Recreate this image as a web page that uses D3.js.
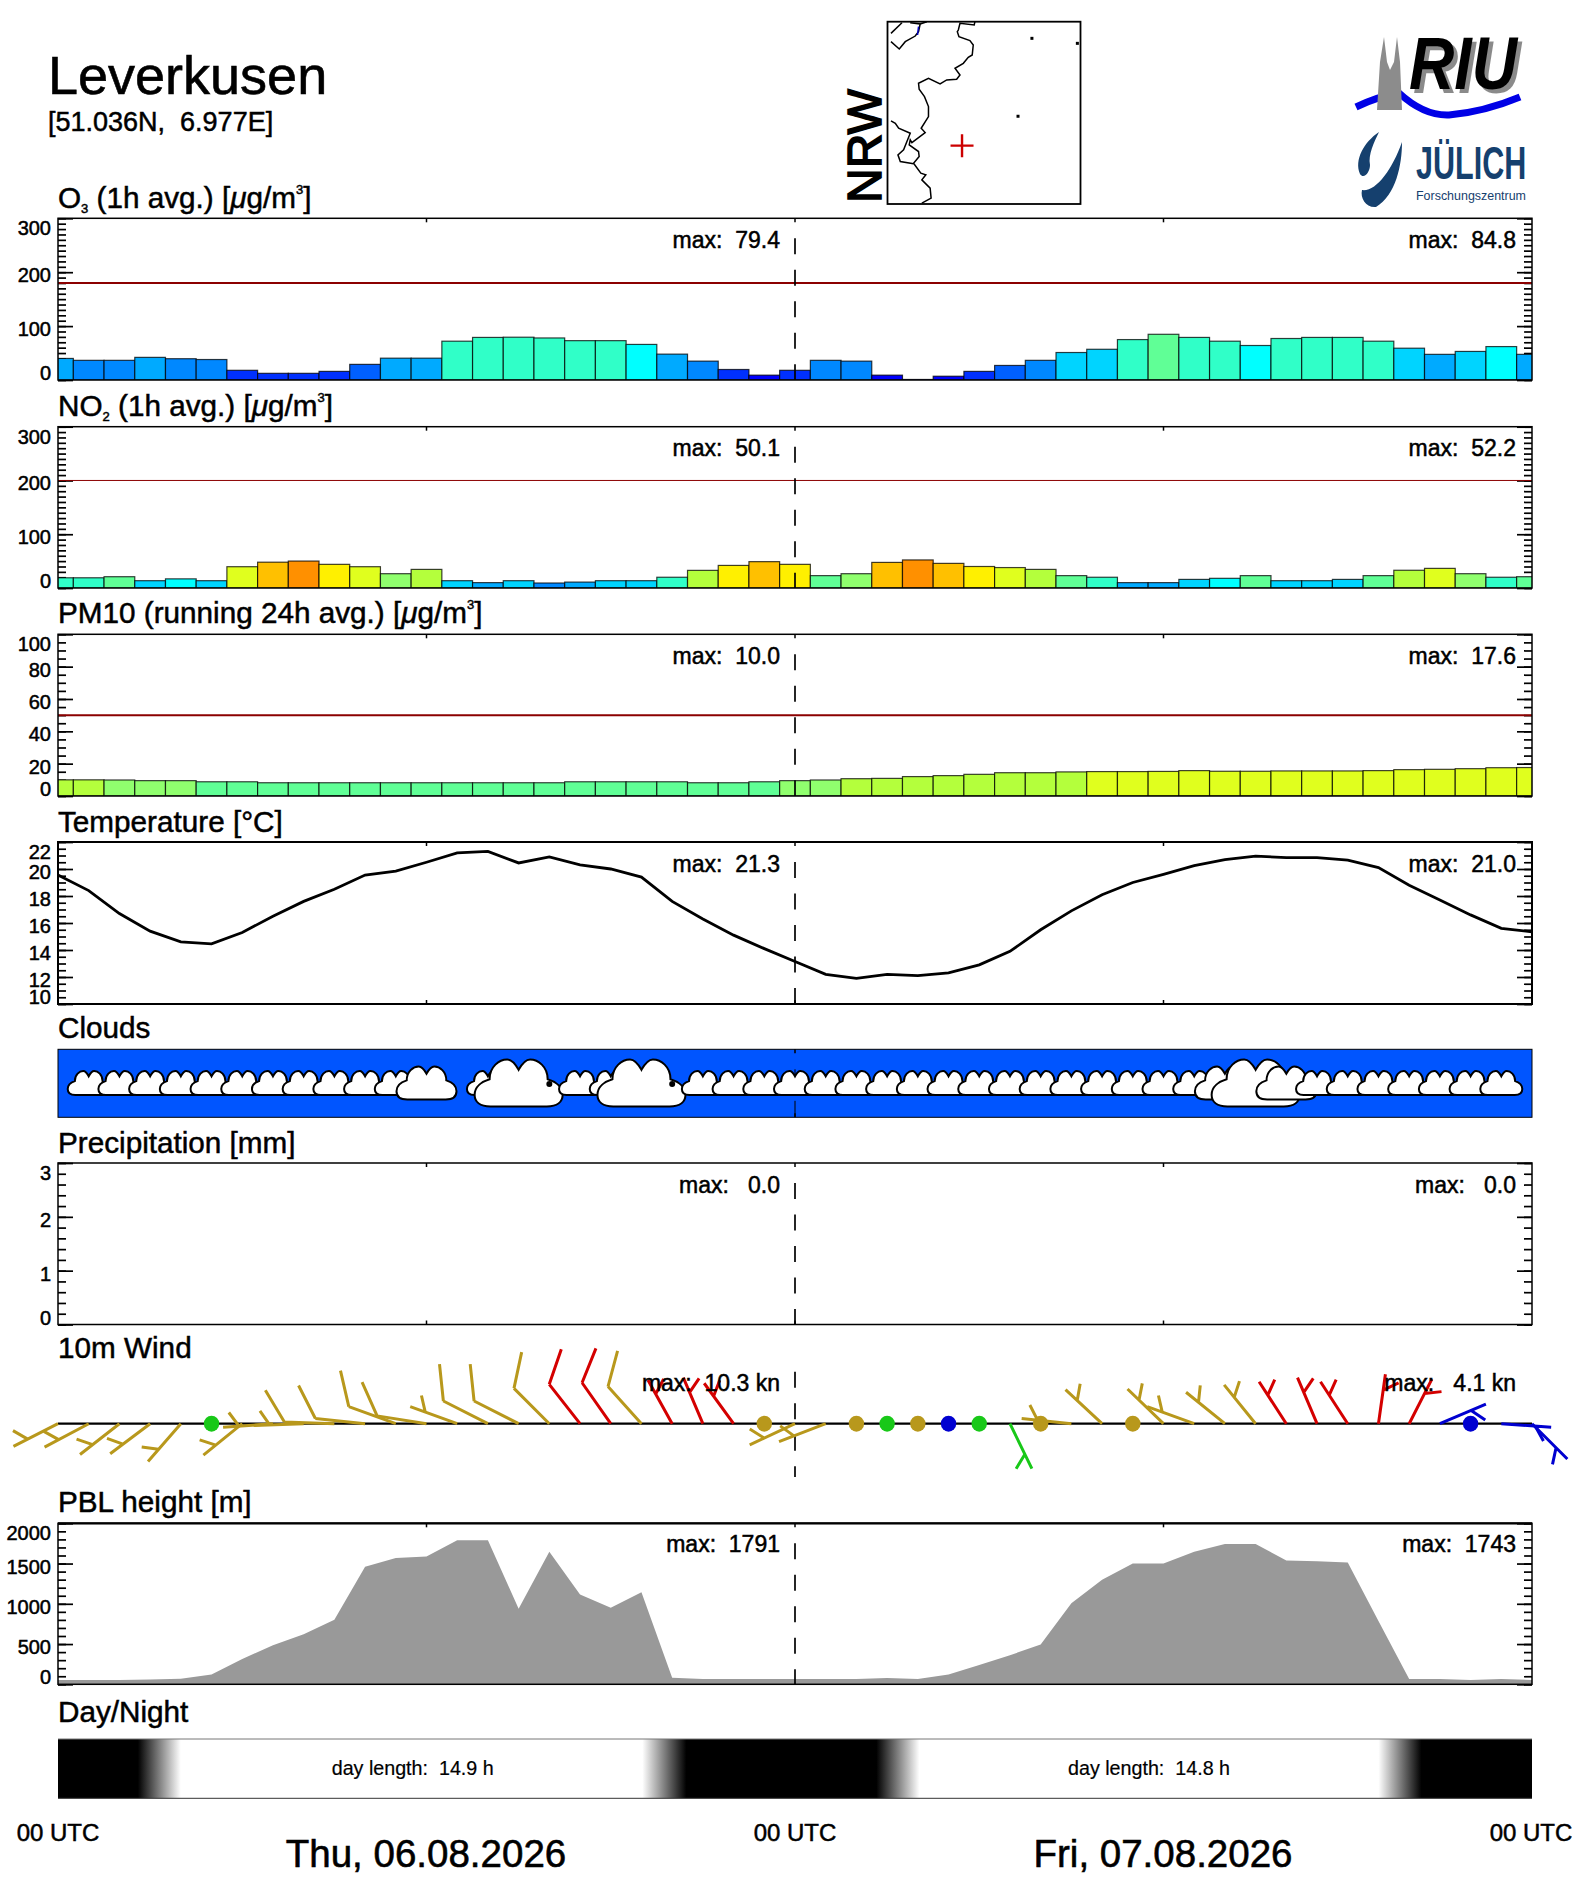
<!DOCTYPE html>
<html>
<head>
<meta charset="utf-8">
<title>Leverkusen</title>
<script src="https://cdn.jsdelivr.net/npm/d3@7"></script>
<style>
html, body { margin: 0; padding: 0; background: #fff; }
svg { display: block; }
text { font-family: "Liberation Sans", sans-serif; fill: #000; white-space: pre; }
</style>
</head>
<body>
<script>
// hourly values, hour 0 to hour 48
var o3Values = [40, 36.5, 36.5, 42, 39.5, 38, 18, 12.4, 12.4, 16, 29, 40.5, 40.5, 72, 79, 79.4, 78, 73, 73, 66, 48, 35, 19.5, 9, 18,
    36.5, 35, 9, 1, 7, 16, 27, 36.5, 51, 57, 75, 84.8, 79, 72, 64, 77, 79, 79, 72, 59, 47.6, 53, 62, 47.6];
var no2Values = [19, 19, 21, 13.6, 17, 13.6, 39.6, 48, 50.1, 44, 39.6, 26.6, 34.6, 13.6, 10, 13.6, 9.3, 11, 13.6, 13.6, 20, 32.8, 42, 49, 44,
    23, 26.6, 47.6, 52.2, 45.8, 40, 38, 34.6, 23, 20, 10, 10, 16, 18, 23, 13.6, 13.6, 16, 23, 33, 36.5, 26.6, 20, 21];
var pm10Values = [10, 10, 9.9, 9.5, 9.5, 8.8, 8.8, 8.2, 8.2, 8.2, 8.2, 8.2, 8.2, 8.2, 8.2, 8.2, 8.2, 8.8, 8.8, 8.8, 8.8, 8.2, 8.2, 8.8, 9.5,
    9.9, 10.7, 10.9, 12, 12.6, 13.4, 14.4, 14.4, 14.9, 15.1, 15.1, 15.2, 15.7, 15.3, 15.3, 15.5, 15.5, 15.5, 15.7, 16.3, 16.5, 16.9, 17.5, 17.6];
var tempValues = [19.55, 18.4, 16.7, 15.4, 14.6, 14.45, 15.3, 16.5, 17.6, 18.5, 19.55, 19.85, 20.5, 21.2, 21.3, 20.45, 20.9, 20.3, 20, 19.4, 17.6, 16.3, 15.1, 14.1, 13.15,
    12.2, 11.9, 12.2, 12.1, 12.3, 12.9, 13.9, 15.5, 16.9, 18.1, 19, 19.6, 20.25, 20.7, 20.95, 20.85, 20.85, 20.65, 20.1, 18.8, 17.7, 16.6, 15.6, 15.35];
var precipValues = [0, 0, 0, 0, 0, 0, 0, 0, 0, 0, 0, 0, 0, 0, 0, 0, 0, 0, 0, 0, 0, 0, 0, 0, 0,
    0, 0, 0, 0, 0, 0, 0, 0, 0, 0, 0, 0, 0, 0, 0, 0, 0, 0, 0, 0, 0, 0, 0, 0];
var pblValues = [53, 53, 53, 60, 70, 123, 313, 486, 621, 802, 1461, 1568, 1588, 1791, 1791, 938, 1646, 1115, 951, 1144, 82, 66, 66, 66, 66,
    66, 66, 78, 66, 123, 239, 362, 494, 1008, 1300, 1502, 1502, 1646, 1743, 1743, 1539, 1530, 1514, 786, 66, 66, 53, 66, 53];

// wind: staff bearing in degrees (null = calm), speed in knots, colour class
var windBearing = [243, 242, 232, 233, 221, null, 231, 266, 268, 272, 276, 290, 279, 290, 297, 297, 315, 322, 325, 318, 331, 337, 324, null, 245,
    249, null, null, null, null, null, 154, null, 276, 313, null, 314, 290, 309, 321, 327, 337, 327, 8, 27, 67, null, 94, 135];
var windSpeed = [4.5, 4.6, 3.9, 3.8, 3.5, 1.5, 4.1, 4.8, 5.2, 7.5, 8, 8.6, 7.8, 6.5, 8.2, 8.4, 9.1, 10.3, 10.1, 9.2, 6.6, 6.2, 5.8, 1.8, 3.2,
    3, 1.5, 1.2, 1.6, 1.1, 1.4, 2.6, 1.7, 2.8, 3.2, 1.9, 3.3, 3.5, 3.6, 3.8, 4.1, 3.9, 3.7, 3.4, 3, 2.8, 1.8, 2.5, 2.6];
var windClass = ["o", "o", "o", "o", "o", "g", "o", "o", "o", "o", "o", "o", "o", "o", "o", "o", "o", "r", "r", "o", "r", "r", "r", "o", "o",
    "o", "o", "g", "o", "b", "g", "g", "o", "o", "o", "o", "o", "o", "o", "o", "r", "r", "r", "r", "r", "b", "b", "b", "b"];

// clouds, hour 1 to hour 47: 0 none, 1 small, 2 medium, 3 large, 4 dot
var cloudClass = [1, 1, 1, 1, 1, 1, 1, 1, 1, 1, 1, 2, 0, 1, 3, 4, 1, 1, 3, 4, 1, 1, 1, 1,
    1, 1, 1, 1, 1, 1, 1, 1, 1, 1, 1, 1, 1, 2, 3, 2, 1, 1, 1, 1, 1, 1, 1];

// black-to-white and white-to-black hours of each day
var dawnDusk = [2.6, 4, 19.03, 20.46, 26.65, 28.05, 43, 44.4];
var dayLabels = ["day length:  14.9 h", "day length:  14.8 h"];
var dateLabels = ["Thu, 06.08.2026", "Fri, 07.08.2026"];
var utcHours = [0, 24, 48];

var colorRamp = ["#0000ff", "#0030ff", "#0060ff", "#0088ff", "#00aaff", "#00d4ff", "#00ffff", "#30ffc8", "#60ff96", "#90ff6e", "#b4ff3c", "#e0ff1e", "#fff000", "#ffc000", "#ff9000"];
var o3Bins = [10, 20, 30, 40, 50, 60, 70, 80, 90, 100, 110, 120, 130, 140];
var no2Bins = [3, 6, 9, 10, 12, 16.5, 19, 21, 25, 30, 36, 40, 45, 50];
var pm10Bins = [1, 2, 3, 4, 5, 6, 7, 8, 9.2, 10, 15, 20, 25, 30];

// border lines of the small map, lon / lat
var borderEast = [[7.241, 52.6], [7.227, 52.558], [6.935, 52.579], [6.901, 52.495], [6.88, 52.474], [6.914, 52.411], [7.139, 52.361], [7.207, 52.306], [7.186, 52.18], [7.105, 52.151], [7.003, 52.075], [6.833, 52.012], [6.935, 51.928], [6.867, 51.873], [6.663, 51.865], [6.527, 51.815], [6.289, 51.886], [6.085, 51.823], [6.098, 51.747], [6.207, 51.655], [6.289, 51.529], [6.289, 51.403], [6.139, 51.256], [6.221, 51.201], [5.949, 51.075], [5.915, 51.109], [5.894, 51.046], [6.085, 50.962], [6.098, 50.899], [5.983, 50.815], [6.132, 50.689], [6.234, 50.668], [6.153, 50.605], [6.323, 50.5], [6.343, 50.374], [6.153, 50.311]];
var borderWest = [[5.52, 51.348], [5.609, 51.319], [5.677, 51.256], [5.915, 51.193], [5.779, 50.983], [5.663, 50.92], [5.711, 50.836], [5.983, 50.807]];
var borderNorth1 = [[5.52, 52.453], [5.745, 52.587]];
var borderNorth2 = [[5.52, 52.348], [5.69, 52.256], [5.813, 52.348], [6.017, 52.419], [6.085, 52.474], [6.119, 52.571], [5.915, 52.587]];
var borderNorth3 = [[6.119, 52.571], [6.255, 52.6]];
var riverLine = [[6.085, 52.537], [6.064, 52.432]];
var mapSpecks = [[8.41, 52.39], [9.342, 52.327], [8.125, 51.407]];
var station = [6.977, 51.036];

var svg = d3.select("body").append("svg")
    .attr("width", 1572)
    .attr("height", 1889);

var hours = d3.range(49);
var x = d3.scaleLinear().domain([0, 48]).range([58, 1532]);
var barW = x(1) - x(0);

function label(str, px, py, size, anchor) {
    return svg.append("text")
        .attr("x", px)
        .attr("y", py)
        .attr("font-size", size)
        .attr("text-anchor", anchor || "start")
        .attr("stroke", "#000")
        .attr("stroke-width", 0.5)
        .text(str);
}

// title with sub/superscripts, parts = [string, "sub"|"sup"|"mu"|null, dy]
function titleText(parts, py) {
    var t = svg.append("text").attr("x", 58).attr("y", py).attr("font-size", 29.7)
        .attr("stroke", "#000").attr("stroke-width", 0.5);
    parts.forEach(function (p) {
        var s = t.append("tspan").text(p[0]);
        if (p[1] == "sub") s.attr("font-size", 13).attr("dy", 5);
        if (p[1] == "sup") s.attr("font-size", 13).attr("dy", -14);
        if (p[1] == "mu") s.attr("font-style", "italic");
        if (p[2]) s.attr("dy", p[2]);
    });
}

function panelFrame(top, bottom, sw) {
    svg.append("rect")
        .attr("x", x(0)).attr("y", top)
        .attr("width", x(48) - x(0)).attr("height", bottom - top)
        .attr("fill", "none").attr("stroke", "#000").attr("stroke-width", sw);
}

function yTicks(y, majors, minors) {
    var styleAxis = function (a) {
        a.select(".domain").remove();
        a.selectAll("line").attr("stroke", "#000").attr("stroke-width", 1.7);
        a.selectAll("text").remove();
    };
    svg.append("g").attr("transform", "translate(" + x(0) + ",0)").call(d3.axisRight(y).tickValues(minors).tickSize(8)).call(styleAxis);
    svg.append("g").attr("transform", "translate(" + x(0) + ",0)").call(d3.axisRight(y).tickValues(majors).tickSize(15)).call(styleAxis);
    svg.append("g").attr("transform", "translate(" + x(48) + ",0)").call(d3.axisLeft(y).tickValues(minors).tickSize(8)).call(styleAxis);
    svg.append("g").attr("transform", "translate(" + x(48) + ",0)").call(d3.axisLeft(y).tickValues(majors).tickSize(15)).call(styleAxis);
    // first and last labels are pushed inside the frame
    majors.forEach(function (m, i) {
        var dy = i == 0 ? 0 : (i == majors.length - 1 ? 17 : 10);
        label(String(m), 51, y(m) + dy, 20, "end");
    });
}

function xTicks(top, bottom, marks) {
    (marks || [12, 24, 36]).forEach(function (h) {
        svg.append("line").attr("x1", x(h)).attr("x2", x(h)).attr("y1", top).attr("y2", top + 4).attr("stroke", "#000").attr("stroke-width", 1.5);
        svg.append("line").attr("x1", x(h)).attr("x2", x(h)).attr("y1", bottom).attr("y2", bottom - 4).attr("stroke", "#000").attr("stroke-width", 1.5);
    });
}

function midDash(top, bottom, sw) {
    svg.append("line")
        .attr("x1", x(24)).attr("x2", x(24))
        .attr("y1", top + 20).attr("y2", bottom)
        .attr("stroke", "#000").attr("stroke-width", sw || 1.7)
        .attr("stroke-dasharray", "16,15.5");
}

function maxLabels(a, b, top) {
    label(a, 780, top + 29.5, 23, "end");
    label(b, 1516, top + 29.5, 23, "end");
}

function clipFor(name, top, bottom) {
    svg.append("clipPath").attr("id", name).append("rect")
        .attr("x", x(0)).attr("y", top).attr("width", x(48) - x(0)).attr("height", bottom - top);
}

function barPanel(name, values, bins, top, bottom, maxY, majors, minors, limit) {
    var y = d3.scaleLinear().domain([0, maxY]).range([bottom, top]);
    var color = d3.scaleThreshold().domain(bins).range(colorRamp);
    clipFor(name, top, bottom);
    // bars hide the ticks behind them
    yTicks(y, majors, minors);
    xTicks(top, bottom);
    svg.append("g").attr("clip-path", "url(#" + name + ")")
        .selectAll("rect").data(values).enter().append("rect")
        .attr("x", function (d, i) { return x(i) - barW / 2; })
        .attr("y", function (d) { return y(d); })
        .attr("width", barW)
        .attr("height", function (d) { return bottom - y(d); })
        .attr("fill", function (d) { return color(d); })
        .attr("stroke", "#000")
        .attr("stroke-opacity", 0.75)
        .attr("stroke-width", 1.2);
    if (limit) {
        svg.append("line").attr("x1", x(0)).attr("x2", x(48)).attr("y1", y(limit[0])).attr("y2", y(limit[0]))
            .attr("stroke", "#8b0000").attr("stroke-width", limit[1]);
    }
    panelFrame(top, bottom, 1.5);
    midDash(top, bottom);
}

// ---------- header ----------
label("Leverkusen", 48, 94, 54).attr("stroke-width", 0.6);
label("[51.036N,  6.977E]", 48, 131, 27);

var mapX = d3.scaleLinear().domain([5.5, 9.437]).range([890, 1082]);
var mapY = d3.scaleLinear().domain([50.3, 52.6]).range([204, 21.7]);
var mapLine = d3.line().x(function (d) { return mapX(d[0]); }).y(function (d) { return mapY(d[1]); });
[borderEast, borderWest, borderNorth1, borderNorth2, borderNorth3].forEach(function (b) {
    svg.append("path").attr("d", mapLine(b)).attr("fill", "none").attr("stroke", "#000").attr("stroke-width", 1.5);
});
svg.append("path").attr("d", mapLine(riverLine)).attr("fill", "none").attr("stroke", "#0000c0").attr("stroke-width", 1.5);
svg.selectAll("rect.speck").data(mapSpecks).enter().append("rect")
    .attr("class", "speck")
    .attr("x", function (d) { return mapX(d[0]) - 1.5; })
    .attr("y", function (d) { return mapY(d[1]) - 1.5; })
    .attr("width", 3).attr("height", 3).attr("fill", "#000");
svg.append("rect").attr("x", 887.5).attr("y", 21.7).attr("width", 193).attr("height", 182.3)
    .attr("fill", "none").attr("stroke", "#000").attr("stroke-width", 1.8);
svg.append("path")
    .attr("d", "M" + (mapX(station[0]) - 11.5) + "," + mapY(station[1]) + "h23M" + mapX(station[0]) + "," + (mapY(station[1]) - 11.5) + "v23")
    .attr("stroke", "#cc0000").attr("stroke-width", 2.4).attr("fill", "none");
svg.append("text").attr("transform", "translate(881,203) rotate(-90)")
    .attr("font-size", 48).attr("stroke", "#000").attr("stroke-width", 1.6).text("NRW");

// RIU logo
svg.append("text").attr("x", 1409).attr("y", 89).attr("font-size", 74).attr("font-weight", "bold").attr("font-style", "italic")
    .attr("textLength", 108).attr("lengthAdjust", "spacingAndGlyphs")
    .style("filter", "drop-shadow(4px 4px 0 #8a8a8a)").text("RIU");
svg.append("path").attr("d", "M1356,107 Q1379,96 1399,93 Q1424,116 1449,115 Q1484,112 1520,97")
    .attr("fill", "none").attr("stroke", "#0000e6").attr("stroke-width", 7);
svg.append("path").attr("d", "M1377,110 L1380,62 L1384,37 L1387,62 L1390,70 L1394,62 L1397,37 L1400,62 L1402,110 Z").attr("fill", "#8c8c8c");

// Juelich logo
svg.append("path").attr("d", "M1379,132 C1364,142 1354,160 1360,174 C1364,180 1370,172 1370,165 C1368,155 1374,142 1379,132 Z").attr("fill", "#15406e");
svg.append("path").attr("d", "M1402,142 C1402,165 1396,195 1376,207 C1366,208 1360,198 1362,190 C1376,192 1392,170 1402,142 Z").attr("fill", "#15406e");
svg.append("text").attr("transform", "translate(1416,179) scale(0.65,1)").attr("font-size", 47).attr("font-weight", "bold")
    .style("fill", "#15406e").text("JÜLICH");
svg.append("text").attr("x", 1416).attr("y", 200).attr("font-size", 13)
    .attr("textLength", 110).attr("lengthAdjust", "spacingAndGlyphs").style("fill", "#15406e").text("Forschungszentrum");

// ---------- O3 ----------
titleText([["O"], ["3", "sub"], [" (1h avg.) [", null, -5], ["μ", "mu"], ["g/m"], ["3", "sup"], ["]", null, 14]], 208);
barPanel("clipO3", o3Values, o3Bins, 218.3, 380, 300, [0, 100, 200, 300], d3.range(0, 301, 10), [180, 2]);
maxLabels("max:  79.4", "max:  84.8", 218.3);

// ---------- NO2 ----------
titleText([["NO"], ["2", "sub"], [" (1h avg.) [", null, -5], ["μ", "mu"], ["g/m"], ["3", "sup"], ["]", null, 14]], 416);
barPanel("clipNo2", no2Values, no2Bins, 426.7, 588, 300, [0, 100, 200, 300], d3.range(0, 301, 10), [200, 1]);
maxLabels("max:  50.1", "max:  52.2", 426.7);

// ---------- PM10 ----------
titleText([["PM10 (running 24h avg.) ["], ["μ", "mu"], ["g/m"], ["3", "sup"], ["]", null, 14]], 623);
barPanel("clipPm", pm10Values, pm10Bins, 634.3, 796, 100, [0, 20, 40, 60, 80, 100], d3.range(0, 101, 5), [50, 2]);
maxLabels("max:  10.0", "max:  17.6", 634.3);

// ---------- temperature ----------
titleText([["Temperature [°C]"]], 832);
var yTemp = d3.scaleLinear().domain([10, 22]).range([1004, 842]);
var tempLine = d3.line()
    .x(function (d, i) { return x(i); })
    .y(function (d) { return yTemp(d); });
yTicks(yTemp, [10, 12, 14, 16, 18, 20, 22], d3.range(10, 22.01, 0.5));
xTicks(842, 1004);
svg.append("path").attr("d", tempLine(tempValues)).attr("fill", "none").attr("stroke", "#000").attr("stroke-width", 2.8);
panelFrame(842, 1004, 2);
midDash(842, 1004);
maxLabels("max:  21.3", "max:  21.0", 842);

// ---------- clouds ----------
titleText([["Clouds"]], 1038);
svg.append("rect").attr("x", x(0)).attr("y", 1049.3).attr("width", x(48) - x(0)).attr("height", 68)
    .attr("fill", "#0055ff").attr("stroke", "#000").attr("stroke-width", 1);
xTicks(1049.3, 1117.3, [24]);
midDash(1049.3, 1117.3, 1);
var cloudW = [0, 42, 60, 88];
var cloudH = [0, 24, 33, 47];
var cloudShape = "M0.18,1 C0.06,1 0,0.9 0,0.75 C0,0.58 0.08,0.47 0.17,0.42 C0.17,0.15 0.28,0 0.37,0 C0.43,0 0.47,0.12 0.5,0.22 C0.53,0.12 0.57,0 0.63,0 C0.72,0 0.83,0.15 0.83,0.42 C0.92,0.47 1,0.58 1,0.75 C1,0.9 0.94,1 0.82,1 Z";
var clouds = svg.append("g");
cloudClass.forEach(function (c, i) {
    var cx = x(i + 1);
    if (c == 4) {
        clouds.append("circle").attr("cx", cx).attr("cy", 1084).attr("r", 3).attr("fill", "#000");
    } else if (c > 0) {
        var w = cloudW[c], h = cloudH[c];
        clouds.append("path")
            .attr("d", cloudShape)
            .attr("transform", "translate(" + (cx - w / 2) + "," + (1083 - h / 2) + ") scale(" + w + "," + h + ")")
            .attr("fill", "#fff").attr("stroke", "#000").attr("stroke-width", 2)
            .attr("vector-effect", "non-scaling-stroke");
    }
});

// ---------- precipitation ----------
titleText([["Precipitation [mm]"]], 1153);
var yPrecip = d3.scaleLinear().domain([0, 3]).range([1324.5, 1163]);
yTicks(yPrecip, [0, 1, 2, 3], d3.range(0, 3.01, 0.2));
xTicks(1163, 1324.5);
svg.append("g").selectAll("rect").data(precipValues).enter().append("rect")
    .attr("x", function (d, i) { return x(i) - barW / 2; })
    .attr("y", function (d) { return yPrecip(d); })
    .attr("width", barW)
    .attr("height", function (d) { return 1324.5 - yPrecip(d); })
    .attr("fill", "#0000ff");
panelFrame(1163, 1324.5, 1.5);
midDash(1163, 1324.5);
maxLabels("max:   0.0", "max:   0.0", 1163);

// ---------- wind ----------
titleText([["10m Wind"]], 1358);
var windBase = 1423.7;
var windColor = d3.scaleOrdinal().domain(["o", "r", "g", "b"]).range(["#b8981c", "#d40000", "#18c818", "#0000d0"]);
var staffLen = 50;
function polar(px, py, bearing, len) {
    var r = bearing * Math.PI / 180;
    return [px + len * Math.sin(r), py - len * Math.cos(r)];
}
midDash(1351.7, 1477);
svg.append("line").attr("x1", x(0)).attr("x2", x(48)).attr("y1", windBase).attr("y2", windBase).attr("stroke", "#000").attr("stroke-width", 2.2);
hours.forEach(function (h) {
    var col = windColor(windClass[h]);
    if (windBearing[h] === null) {
        svg.append("ellipse").attr("cx", x(h)).attr("cy", windBase).attr("rx", 7.7).attr("ry", 8).attr("fill", col);
        return;
    }
    var b = windBearing[h];
    var end = polar(x(h), windBase, b, staffLen);
    var p = d3.path();
    p.moveTo(x(h), windBase);
    p.lineTo(end[0], end[1]);
    if (windSpeed[h] >= 7) {
        var f = polar(end[0], end[1], b + 57, 37);
        p.moveTo(end[0], end[1]);
        p.lineTo(f[0], f[1]);
    } else {
        var s = polar(x(h), windBase, b, staffLen * 0.68);
        var f2 = polar(s[0], s[1], b + 57, 17);
        p.moveTo(s[0], s[1]);
        p.lineTo(f2[0], f2[1]);
    }
    svg.append("path").attr("d", p.toString()).attr("fill", "none").attr("stroke", col).attr("stroke-width", 3);
});
label("max:  10.3 kn", 780, 1390.7, 23, "end");
label("max:   4.1 kn", 1516, 1390.7, 23, "end");

// ---------- PBL ----------
titleText([["PBL height [m]"]], 1512);
var yPbl = d3.scaleLinear().domain([0, 2000]).range([1684.3, 1523.3]);
var pblArea = d3.area()
    .x(function (d, i) { return x(i); })
    .y0(1684.3)
    .y1(function (d) { return yPbl(d); });
yTicks(yPbl, [0, 500, 1000, 1500, 2000], d3.range(0, 2001, 100));
xTicks(1523.3, 1684.3);
svg.append("path").attr("d", pblArea(pblValues)).attr("fill", "#999999");
panelFrame(1523.3, 1684.3, 1.5);
svg.append("line").attr("x1", x(0)).attr("x2", x(48)).attr("y1", 1523.3).attr("y2", 1523.3).attr("stroke", "#000").attr("stroke-width", 2.2);
midDash(1523.3, 1684.3);
label("max:  1791", 780, 1551.5, 23, "end");
label("max:  1743", 1516, 1551.5, 23, "end");

// ---------- day/night ----------
titleText([["Day/Night"]], 1722);
var grad = svg.append("defs").append("linearGradient").attr("id", "dayNight").attr("x1", 0).attr("x2", 1).attr("y1", 0).attr("y2", 0);
var hourToOffset = d3.scaleLinear().domain([0, 48]).range([0, 1]);
dawnDusk.forEach(function (h, i) {
    grad.append("stop").attr("offset", hourToOffset(h)).attr("stop-color", (i % 4 == 0 || i % 4 == 3) ? "#000" : "#fff");
});
svg.append("rect").attr("x", x(0)).attr("y", 1739).attr("width", x(48) - x(0)).attr("height", 59.3).attr("fill", "url(#dayNight)");
svg.append("line").attr("x1", x(0)).attr("x2", x(48)).attr("y1", 1739).attr("y2", 1739).attr("stroke", "#777").attr("stroke-width", 1);
svg.append("line").attr("x1", x(0)).attr("x2", x(48)).attr("y1", 1798.3).attr("y2", 1798.3).attr("stroke", "#333").attr("stroke-width", 1);
label(dayLabels[0], 412.7, 1775, 19.7, "middle").attr("stroke-width", 0.2);
label(dayLabels[1], 1149, 1775, 19.7, "middle").attr("stroke-width", 0.2);

// ---------- time axis ----------
utcHours.forEach(function (h) {
    label("00 UTC", Math.min(x(h), 1531), 1840.7, 24, "middle");
});
label(dateLabels[0], 426, 1866.7, 38.5, "middle").attr("stroke-width", 0.6);
label(dateLabels[1], 1163, 1866.7, 38.5, "middle").attr("stroke-width", 0.6);
</script>
</body>
</html>
